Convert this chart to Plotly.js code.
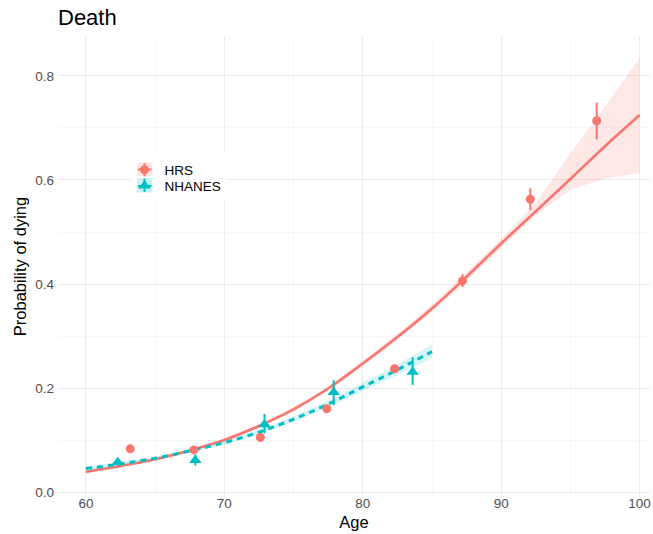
<!DOCTYPE html>
<html>
<head>
<meta charset="utf-8">
<script src="https://cdn.plot.ly/plotly-3.0.1.min.js"></script>
<style>html,body{margin:0;padding:0;background:#fff;}#chart{width:653px;height:534px;}</style>
</head>
<body>
<div id="chart"></div>
<script>
// Observed points (HRS)
const hrsAge = [63.2, 67.8, 72.6, 77.4, 82.3, 87.2, 92.1, 96.9];
const hrsProb = [0.083, 0.081, 0.105, 0.160, 0.237, 0.406, 0.563, 0.714];
const hrsLow = [0.078, 0.076, 0.099, 0.153, 0.229, 0.394, 0.542, 0.678];
const hrsHigh = [0.088, 0.086, 0.111, 0.167, 0.245, 0.419, 0.584, 0.749];

// Observed points (NHANES)
const nhAge = [62.3, 67.9, 72.9, 77.9, 83.6];
const nhProb = [0.057, 0.061, 0.130, 0.192, 0.231];
const nhLow = [0.051, 0.051, 0.113, 0.167, 0.206];
const nhHigh = [0.063, 0.072, 0.150, 0.215, 0.259];

// Fitted curves
const hrsFitAge = [60, 62.5, 65, 67.5, 70, 72.5, 75, 77.5, 80, 82.5, 85, 87.5, 90, 92.5, 95, 97.5, 100];
const hrsFit = [0.039, 0.050, 0.063, 0.080, 0.100, 0.127, 0.159, 0.199, 0.247, 0.298, 0.353, 0.414, 0.478, 0.540, 0.602, 0.665, 0.725];
const hrsFitLow = [0.035, 0.047, 0.060, 0.077, 0.097, 0.124, 0.155, 0.195, 0.242, 0.292, 0.346, 0.405, 0.470, 0.532, 0.581, 0.603, 0.614];
const hrsFitHigh = [0.043, 0.054, 0.066, 0.083, 0.103, 0.130, 0.163, 0.203, 0.252, 0.304, 0.360, 0.423, 0.487, 0.556, 0.651, 0.742, 0.834];

const nhFitAge = [60, 62.5, 65, 67.5, 70, 72.5, 75, 77.5, 80, 82.5, 85];
const nhFit = [0.045, 0.054, 0.065, 0.079, 0.095, 0.115, 0.140, 0.169, 0.202, 0.235, 0.270];
const nhFitLow = [0.041, 0.050, 0.062, 0.076, 0.091, 0.111, 0.135, 0.163, 0.194, 0.225, 0.257];
const nhFitHigh = [0.049, 0.058, 0.068, 0.082, 0.099, 0.119, 0.145, 0.175, 0.210, 0.245, 0.283];

const xTicks = [60, 70, 80, 90, 100];
const yTicks = [0.0, 0.2, 0.4, 0.6, 0.8];

const RED = '#F8766D', CYAN = '#00BFC4';
const FONT = '"Liberation Sans", Arial, sans-serif';

function band(x, lo, hi, color) {
  return {
    x: x.concat(x.slice().reverse()),
    y: hi.concat(lo.slice().reverse()),
    type: 'scatter', mode: 'lines', fill: 'toself',
    fillcolor: color, line: {width: 0}, showlegend: false, hoverinfo: 'skip'
  };
}

const traces = [
  band(hrsFitAge, hrsFitLow, hrsFitHigh, 'rgba(248,118,109,0.17)'),
  band(nhFitAge, nhFitLow, nhFitHigh, 'rgba(0,191,196,0.17)'),
  {x: hrsFitAge, y: hrsFit, type: 'scatter', mode: 'lines', line: {color: RED, width: 2.6, shape: 'spline'}, showlegend: false},
  {x: nhFitAge, y: nhFit, type: 'scatter', mode: 'lines', line: {color: CYAN, width: 3, dash: '6px,5px', shape: 'spline'}, showlegend: false},
  {x: hrsAge, y: hrsProb, type: 'scatter', mode: 'markers', name: 'HRS', legend: 'legend',
   marker: {color: RED, size: 9, symbol: 'circle'},
   error_y: {type: 'data', symmetric: false,
     array: hrsHigh.map((v, i) => v - hrsProb[i]),
     arrayminus: hrsProb.map((v, i) => v - hrsLow[i]),
     color: RED, thickness: 2, width: 0}},
  {x: nhAge, y: nhProb, type: 'scatter', mode: 'markers', name: 'NHANES', legend: 'legend2',
   marker: {color: CYAN, size: 11, symbol: 'triangle-up'},
   error_y: {type: 'data', symmetric: false,
     array: nhHigh.map((v, i) => v - nhProb[i]),
     arrayminus: nhProb.map((v, i) => v - nhLow[i]),
     color: CYAN, thickness: 2, width: 0}}
];

// pixel helpers for legend decoration (plot area: left 58, top 36, width 592, height 461)
const px = v => (v - 58) / 592;
const py = v => (497 - v) / 461;

const legendBase = {xanchor: 'left', yanchor: 'top', bgcolor: 'rgba(255,255,255,0)',
  font: {size: 13.5, family: FONT, color: '#000'}, itemclick: false, borderwidth: 0};

const layout = {
  width: 653, height: 534,
  margin: {l: 58, r: 3, t: 36, b: 37},
  paper_bgcolor: '#fff', plot_bgcolor: '#fff',
  font: {family: FONT, color: '#000'},
  title: {text: 'Death', x: 0, xanchor: 'left', xref: 'paper', y: 0.967, yanchor: 'middle',
          font: {size: 22, color: '#000', family: FONT}},
  xaxis: {
    range: [57.98, 100.75], tickvals: xTicks, ticktext: xTicks.map(String),
    showgrid: true, gridcolor: '#EBEBEB', gridwidth: 1,
    minor: {dtick: 5, showgrid: true, gridcolor: '#F3F3F3', gridwidth: 0.6},
    zeroline: false, showline: false, ticks: '', ticklabelstandoff: -4,
    tickfont: {size: 13.5, color: '#4D4D4D', family: FONT},
    title: {text: 'Age', font: {size: 16.5, color: '#000', family: FONT}, standoff: 6}
  },
  yaxis: {
    range: [-0.0096, 0.8769], tickvals: yTicks, ticktext: yTicks.map(v => v.toFixed(1)),
    showgrid: true, gridcolor: '#EBEBEB', gridwidth: 1,
    minor: {dtick: 0.1, showgrid: true, gridcolor: '#F3F3F3', gridwidth: 0.6},
    zeroline: false, showline: false, ticks: '', ticklabelstandoff: 3,
    tickfont: {size: 13.5, color: '#4D4D4D', family: FONT},
    title: {text: 'Probability of dying', font: {size: 16.5, color: '#000', family: FONT}, standoff: 4}
  },
  showlegend: true,
  legend: Object.assign({x: px(124.5), y: py(154.5)}, legendBase),
  legend2: Object.assign({x: px(124.5), y: py(170.5)}, legendBase),
  shapes: [
    {type: 'rect', xref: 'paper', yref: 'paper', layer: 'above',
     x0: px(131), x1: px(226), y0: py(200), y1: py(153), fillcolor: '#fff', line: {width: 0}},
    {type: 'rect', xref: 'paper', yref: 'paper', layer: 'above',
     x0: px(137), x1: px(152.5), y0: py(176), y1: py(162.5), fillcolor: 'rgba(248,118,109,0.2)', line: {width: 0}},
    {type: 'rect', xref: 'paper', yref: 'paper', layer: 'above',
     x0: px(137), x1: px(152.5), y0: py(192.5), y1: py(178), fillcolor: 'rgba(0,191,196,0.2)', line: {width: 0}},
    {type: 'line', xref: 'paper', yref: 'paper', layer: 'above',
     x0: px(138), x1: px(151.5), y0: py(169.5), y1: py(169.5), line: {color: RED, width: 2}},
    {type: 'line', xref: 'paper', yref: 'paper', layer: 'above',
     x0: px(144.5), x1: px(144.5), y0: py(163), y1: py(176.5), line: {color: RED, width: 2}},
    {type: 'line', xref: 'paper', yref: 'paper', layer: 'above',
     x0: px(138), x1: px(151.5), y0: py(186), y1: py(186), line: {color: CYAN, width: 2}},
    {type: 'line', xref: 'paper', yref: 'paper', layer: 'above',
     x0: px(144.5), x1: px(144.5), y0: py(178.5), y1: py(192), line: {color: CYAN, width: 2}}
  ]
};

Plotly.newPlot('chart', traces, layout, {displayModeBar: false, staticPlot: true});
</script>
</body>
</html>
